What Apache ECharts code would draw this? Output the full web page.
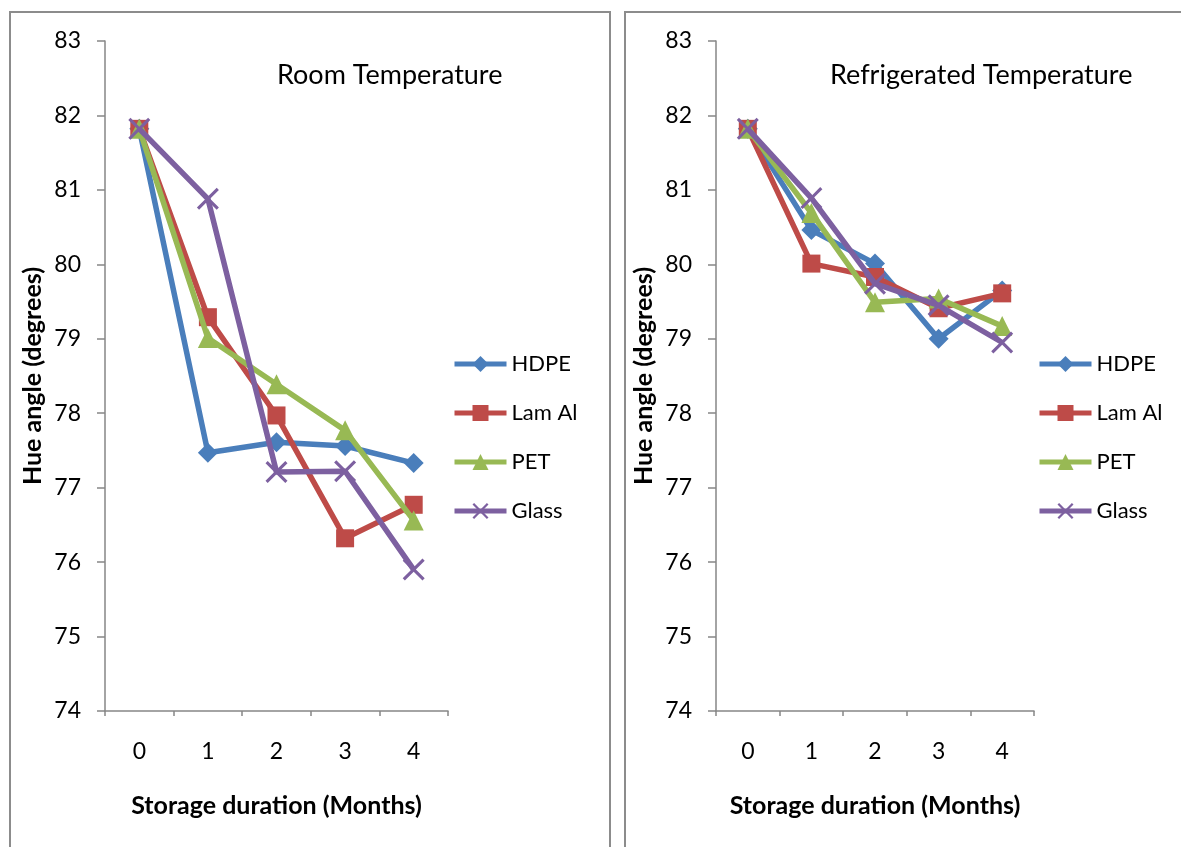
<!DOCTYPE html>
<html><head><meta charset="utf-8">
<script src="https://cdn.jsdelivr.net/npm/echarts@6/dist/echarts.min.js"></script>
<style>html,body{margin:0;padding:0;background:#fff}#c{width:1181px;height:847px}</style>
</head><body><div id="c"></div>
<script>
const months = ['0', '1', '2', '3', '4'];
const seriesNames = ['HDPE', 'Lam Al', 'PET', 'Glass'];
const roomHDPE  = [81.82, 77.47, 77.61, 77.56, 77.33];
const roomLamAl = [81.82, 79.29, 77.97, 76.32, 76.77];
const roomPET   = [81.82, 79.01, 78.39, 77.77, 76.56];
const roomGlass = [81.82, 80.88, 77.21, 77.22, 75.90];
const refHDPE  = [81.82, 80.46, 80.01, 79.00, 79.65];
const refLamAl = [81.82, 80.01, 79.83, 79.41, 79.61];
const refPET   = [81.82, 80.69, 79.49, 79.54, 79.17];
const refGlass = [81.82, 80.89, 79.74, 79.45, 78.95];
const titles = ['Room Temperature', 'Refrigerated Temperature'];
const yName = 'Hue angle (degrees)';
const xName = 'Storage duration (Months)';

const FONT = 'Lato';
const colors = ['#4A7EBB', '#BE4B48', '#98B954', '#7D60A0'];
const xPath = 'path://M0,1L1,0L5,4L9,0L10,1L6,5L10,9L9,10L5,6L1,10L0,9L4,5Z';
const symbols = ['diamond', 'rect', 'triangle', xPath];
const symSizes = [20, 18, 20, 22];
const roomData = [roomHDPE, roomLamAl, roomPET, roomGlass];
const refData = [refHDPE, refLamAl, refPET, refGlass];

const grids = [
  {left: 105, top: 41, width: 343, height: 670},
  {left: 716, top: 41, width: 318, height: 670}
];
const axisColor = '#868686';
function xAxis(i){
  return {type:'category', gridIndex:i, data:months, boundaryGap:true,
    axisLine:{lineStyle:{color:axisColor, width:1.5}},
    axisTick:{show:true, length:5, inside:false, alignWithLabel:false, lineStyle:{color:axisColor, width:1.5}},
    axisLabel:{color:'#000', fontFamily:FONT, fontSize:23, margin:29},
    name:xName, nameLocation:'middle', nameGap:82,
    nameTextStyle:{color:'#000', fontFamily:FONT, fontSize:25, fontWeight:'bold'}};
}
function yAxis(i){
  return {type:'value', gridIndex:i, min:74, max:83, interval:1,
    axisLine:{show:true, lineStyle:{color:axisColor, width:1.5}},
    axisTick:{show:true, length:8, lineStyle:{color:axisColor, width:1.5}},
    splitLine:{show:false},
    axisLabel:{color:'#000', fontFamily:FONT, fontSize:23, margin:24},
    name:yName, nameLocation:'middle', nameGap:60,
    nameTextStyle:{color:'#000', fontFamily:FONT, fontSize:25, fontWeight:'bold'}};
}
const series = [];
[roomData, refData].forEach((set, gi) => {
  set.forEach((d, k) => {
    series.push({name:seriesNames[k], type:'line', xAxisIndex:gi, yAxisIndex:gi, data:d,
      symbol:symbols[k], symbolSize:symSizes[k], showAllSymbol:true,
      lineStyle:{color:colors[k], width:5.5},
      itemStyle:{color:colors[k]}, z: 2 + k});
  });
});
function legend(left){
  return {orient:'vertical', left:left, top:348, itemWidth:52, itemHeight:20, itemGap:27,
    data:seriesNames, lineStyle:{width:5},
    textStyle:{color:'#000', fontFamily:FONT, fontSize:22}};
}
const chart = echarts.init(document.getElementById('c'), null, {renderer:'canvas'});
chart.setOption({
  backgroundColor:'#fff',
  animation:false,
  title:[
    {text:titles[0], left:272, top:57, textStyle:{fontFamily:FONT, fontSize:27, fontWeight:'normal', color:'#000'}},
    {text:titles[1], left:825, top:57, textStyle:{fontFamily:FONT, fontSize:27, fontWeight:'normal', color:'#000'}}
  ],
  legend:[legend(447), legend(1032)],
  grid:grids,
  xAxis:[xAxis(0), xAxis(1)],
  yAxis:[yAxis(0), yAxis(1)],
  series:series,
  graphic:[
    {type:'rect', shape:{x:10, y:12, width:600, height:860}, style:{fill:'none', stroke:'#8c8c8c', lineWidth:2}, silent:true},
    {type:'rect', shape:{x:625, y:12, width:600, height:860}, style:{fill:'none', stroke:'#8c8c8c', lineWidth:2}, silent:true}
  ]
});
</script></body></html>
